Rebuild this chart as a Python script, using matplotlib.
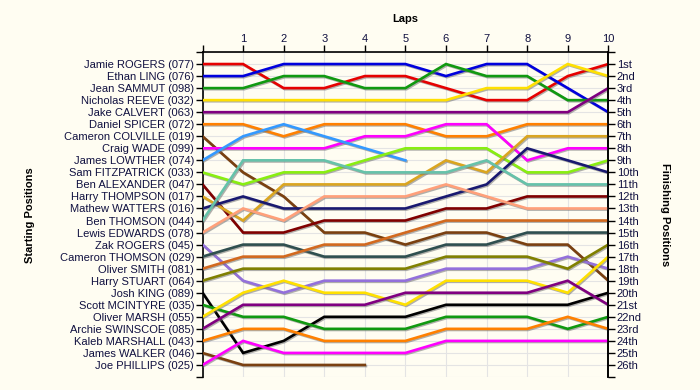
import matplotlib
matplotlib.use("Agg")
import matplotlib.pyplot as plt
import matplotlib.patheffects as pe

plt.rcParams['font.family'] = ['Liberation Sans', 'DejaVu Sans']

laps = list(range(0, 11))

drivers = [
    "Jamie ROGERS (077)", "Ethan LING (076)", "Jean SAMMUT (098)", "Nicholas REEVE (032)",
    "Jake CALVERT (063)", "Daniel SPICER (072)", "Cameron COLVILLE (019)", "Craig WADE (099)",
    "James LOWTHER (074)", "Sam FITZPATRICK (033)", "Ben ALEXANDER (047)", "Harry THOMPSON (017)",
    "Mathew WATTERS (016)", "Ben THOMSON (044)", "Lewis EDWARDS (078)", "Zak ROGERS (045)",
    "Cameron THOMSON (029)", "Oliver SMITH (081)", "Harry STUART (064)", "Josh KING (089)",
    "Scott MCINTYRE (035)", "Oliver MARSH (055)", "Archie SWINSCOE (085)", "Kaleb MARSHALL (043)",
    "James WALKER (046)", "Joe PHILLIPS (025)",
]

finish_labels = ["1st", "2nd", "3rd", "4th", "5th", "6th", "7th", "8th", "9th", "10th",
                 "11th", "12th", "13th", "14th", "15th", "16th", "17th", "18th", "19th",
                 "20th", "21st", "22nd", "23rd", "24th", "25th", "26th"]

# positions at laps 0..10 (None = retired)
pos_077 = [1, 1, 3, 3, 2, 2, 3, 4, 4, 2, 1]
pos_076 = [2, 2, 1, 1, 1, 1, 2, 1, 1, 3, 5]
pos_098 = [3, 3, 2, 2, 3, 3, 1, 2, 2, 4, 4]
pos_032 = [4, 4, 4, 4, 4, 4, 4, 3, 3, 1, 2]
pos_063 = [5, 5, 5, 5, 5, 5, 5, 5, 5, 5, 3]
pos_072 = [6, 6, 7, 6, 6, 6, 7, 7, 6, 6, 6]
pos_019 = [7, 10, 12, 15, 15, 16, 15, 15, 16, 16, 19]
pos_099 = [8, 8, 8, 8, 7, 7, 6, 6, 9, 8, 8]
pos_074 = [9, 7, 6, 7, 8, 9, None, None, None, None, None]
pos_033 = [10, 11, 10, 10, 9, 8, 8, 8, 10, 10, 9]
pos_047 = [11, 15, 15, 14, 14, 14, 13, 13, 12, 12, 12]
pos_017 = [12, 14, 11, 11, 11, 11, 9, 10, 7, 7, 7]
pos_016 = [13, 12, 13, 13, 13, 13, 12, 11, 8, 9, 10]
pos_044 = [14, 9, 9, 9, 10, 10, 10, 9, 11, 11, 11]
pos_078 = [15, 13, 14, 12, 12, 12, 11, 12, 13, 13, 13]
pos_045 = [16, 19, 20, 19, 19, 19, 18, 18, 18, 17, 18]
pos_029 = [17, 16, 16, 17, 17, 17, 16, 16, 15, 15, 15]
pos_081 = [18, 17, 17, 16, 16, 15, 14, 14, 14, 14, 14]
pos_064 = [19, 18, 18, 18, 18, 18, 17, 17, 17, 18, 16]
pos_089 = [20, 25, 24, 22, 22, 22, 21, 21, 21, 21, 20]
pos_035 = [21, 22, 22, 23, 23, 23, 22, 22, 22, 23, 22]
pos_055 = [22, 20, 19, 20, 20, 21, 19, 19, 19, 20, 17]
pos_085 = [23, 21, 21, 21, 21, 20, 20, 20, 20, 19, 21]
pos_043 = [24, 23, 23, 24, 24, 24, 23, 23, 23, 22, 23]
pos_046 = [25, 26, 26, 26, 26, None, None, None, None, None, None]
pos_025 = [26, 24, 25, 25, 25, 25, 24, 24, 24, 24, 24]

series = [pos_077, pos_076, pos_098, pos_032, pos_063, pos_072, pos_019, pos_099,
          pos_074, pos_033, pos_047, pos_017, pos_016, pos_044, pos_078, pos_045,
          pos_029, pos_081, pos_064, pos_089, pos_035, pos_055, pos_085, pos_043,
          pos_046, pos_025]

colors = ["#e60000", "#0000dd", "#109910", "#ffe000", "#800080", "#ff8000", "#7a4010",
          "#ff00ff", "#3399ff", "#88ee11", "#800000", "#daa520", "#191970", "#66c2aa",
          "#ffa07a", "#9370db", "#2f4f4f", "#d2691e", "#808000", "#000000", "#109910",
          "#ffe000", "#800080", "#ff8000", "#7a4010", "#ff00ff"]

bg = "#fffdf2"
txt = "#101040"

fig = plt.figure(figsize=(7, 3.9), dpi=100, facecolor=bg)
ax = fig.add_axes([202.5 / 700, 13 / 390, (608.3 - 202.5) / 700, 325 / 390])
ax.set_facecolor(bg)

for s, c in zip(series, colors):
    xs = [l for l, p in zip(laps, s) if p is not None]
    ys = [p for p in s if p is not None]
    ax.plot(xs, ys, color=c, lw=1.9, solid_joinstyle='miter', zorder=3,
            path_effects=[pe.SimpleLineShadow(offset=(0.8, -0.8), shadow_color='#707070', alpha=0.55),
                          pe.Normal()])

ax.set_xlim(0, 10)
ax.set_ylim(27, 0)

ax.set_yticks(range(0, 28))
ax.set_yticklabels([""] + drivers + [""])
ax.set_xticks(laps)
ax.xaxis.tick_top()
ax.set_xticklabels([""] + [str(l) for l in laps[1:]])

ax.tick_params(axis='y', length=5, width=1, pad=1, labelsize=8, labelcolor=txt, color='black')
ax.tick_params(axis='x', length=5, width=1, pad=1, labelsize=8, labelcolor=txt, color='black')

ax.grid(True, color='#e4e4e4', lw=0.8, zorder=0)
ax.set_axisbelow(True)
for side in ['bottom']:
    ax.spines[side].set_visible(False)
for side in ['left', 'top', 'right']:
    ax.spines[side].set_linewidth(1.2)

ax2 = ax.twinx()
ax2.set_ylim(27, 0)
ax2.set_yticks(range(0, 28))
ax2.set_yticklabels([""] + finish_labels + [""])
ax2.tick_params(axis='y', length=5, width=1, pad=1, labelsize=8, labelcolor=txt, color='black')
ax2.spines['bottom'].set_visible(False)
ax2.spines['top'].set_visible(False)
ax2.spines['left'].set_visible(False)
ax2.spines['right'].set_linewidth(1.2)

fig.text(405 / 700, 1 - 19 / 390, "Laps", ha='center', va='center', fontsize=8,
         fontweight='bold', color='black')
fig.text(30 / 700, 1 - 215 / 390, "Starting Positions", ha='center', va='center',
         fontsize=8, fontweight='bold', rotation=90, color='black')
fig.text(665 / 700, 1 - 215 / 390, "Finishing Positions", ha='center', va='center',
         fontsize=8, fontweight='bold', rotation=270, color='black')

fig.savefig("out.png", dpi=100, facecolor=bg)
